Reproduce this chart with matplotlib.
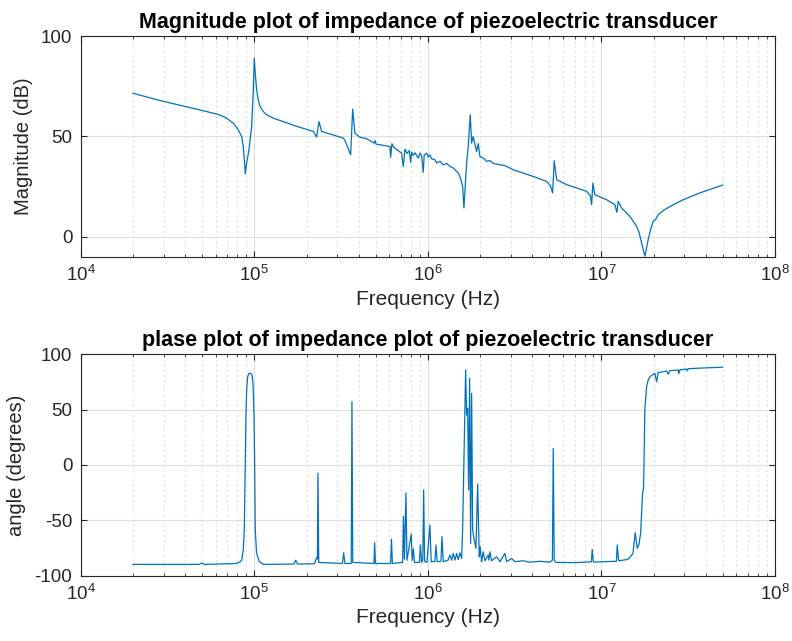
import matplotlib
matplotlib.use("Agg")
import matplotlib.pyplot as plt
from matplotlib.ticker import LogLocator, NullFormatter, FixedLocator

plt.rcParams['font.family'] = ['Liberation Sans', 'DejaVu Sans']
plt.rcParams['axes.unicode_minus'] = False

# ---------------- data ----------------
mag_freq = [2.00e4, 2.86e4, 4.87e4, 6.30e4, 6.93e4, 7.57e4, 8.09e4, 8.46e4, 8.64e4, 8.80e4,
            8.87e4, 9.04e4, 9.32e4, 9.66e4, 9.87e4, 1.00e5, 1.013e5, 1.032e5, 1.054e5,
            1.079e5, 1.127e5, 1.179e5, 1.287e5, 1.469e5, 1.716e5, 2.19e5, 2.288e5,
            2.36e5, 2.444e5, 3.256e5, 3.33e5, 3.592e5, 3.689e5, 3.80e5, 4.06e5, 4.441e5,
            4.893e5, 4.96e5, 5.02e5, 6.05e5, 6.105e5, 6.21e5, 6.38e5, 7.06e5, 7.22e5,
            7.38e5, 7.60e5, 7.82e5, 7.96e5, 8.07e5, 8.24e5, 8.43e5, 8.81e5, 9.01e5,
            9.21e5, 9.41e5, 9.53e5, 9.84e5, 1.005e6, 1.028e6, 1.052e6, 1.099e6, 1.124e6,
            1.174e6, 1.227e6, 1.282e6, 1.341e6, 1.401e6, 1.497e6, 1.531e6, 1.587e6,
            1.614e6, 1.673e6, 1.709e6, 1.755e6, 1.788e6, 1.826e6, 1.910e6, 1.951e6,
            1.995e6, 2.084e6, 2.181e6, 2.279e6, 2.381e6, 2.602e6, 2.780e6, 3.104e6,
            4.047e6, 4.835e6, 5.084e6, 5.235e6, 5.347e6, 5.520e6, 6.302e6, 8.216e6,
            8.64e6, 8.78e6, 8.93e6, 9.17e6, 1.072e7, 1.196e7, 1.228e7, 1.250e7, 1.307e7,
            1.460e7, 1.525e7, 1.595e7, 1.651e7, 1.704e7, 1.741e7, 1.780e7, 1.821e7,
            1.860e7, 1.920e7, 1.988e7, 2.060e7, 2.124e7, 2.270e7, 2.375e7, 2.592e7,
            2.960e7, 3.693e7, 4.992e7]
mag_db = [71.5, 67.9, 63.2, 60.8, 59.1, 56.6, 53.3, 50.0, 45.0, 36.8,
          31.4, 36.8, 43.4, 55.0, 73.2, 88.9, 81.5, 73.2, 68.2,
          64.9, 62.4, 60.8, 59.1, 57.4, 55.3, 52.5, 49.7,
          57.4, 52.5, 49.2, 48.0, 40.9, 63.6, 51.7, 49.6, 48.9,
          46.7, 48.0, 46.2, 45.0, 39.7, 46.4, 44.5, 41.7, 35.1,
          43.7, 41.5, 43.0, 37.1, 42.2, 40.5, 41.9, 39.2, 41.7,
          40.4, 32.1, 40.8, 41.7, 39.7, 40.8, 38.9, 38.4, 36.8,
          37.6, 35.9, 36.6, 35.1, 34.3, 31.8, 30.1, 25.1,
          14.4, 36.8, 45.0, 60.8, 46.7, 50.0, 42.5, 46.4,
          40.0, 39.3, 37.6, 38.0, 36.6, 35.9, 35.5, 33.4,
          30.1, 27.6, 25.5, 21.9, 37.9, 28.5, 26.0, 22.7,
          20.5, 16.0, 26.8, 21.0, 18.5, 16.0, 12.2, 17.7, 14.4,
          10.2, 7.8, 5.3, 2.0, -3.0, -6.3, -9.6, -5.5,
          -1.3, 3.6, 7.8, 8.9, 11.1, 13.1, 14.1, 16.0,
          18.5, 21.9, 25.8]

ph_freq = [2.00e4, 4.80e4, 4.98e4, 5.15e4, 7.85e4, 8.27e4, 8.46e4, 8.64e4, 8.76e4, 8.87e4,
           8.96e4, 9.04e4, 9.16e4, 9.32e4, 9.535e4, 9.70e4, 9.83e4, 9.96e4, 1.005e5,
           1.013e5, 1.032e5, 1.069e5, 1.127e5, 1.693e5, 1.732e5,
           1.774e5, 2.222e5, 2.288e5, 2.312e5, 2.327e5, 2.352e5, 3.222e5, 3.273e5, 3.33e5,
           3.62e5, 3.654e5, 3.693e5, 4.893e5, 4.938e5, 4.99e5, 6.105e5, 6.17e5, 6.25e5,
           7.16e5, 7.235e5, 7.33e5, 7.48e5, 7.58e5, 8.026e5, 8.13e5, 8.26e5, 8.37e5,
           8.94e5, 9.06e5, 9.21e5, 9.35e5, 9.46e5, 9.58e5, 9.88e5, 1.028e6, 1.046e6,
           1.099e6, 1.114e6, 1.133e6, 1.19e6, 1.206e6, 1.227e6, 1.306e6, 1.341e6, 1.371e6,
           1.401e6, 1.433e6, 1.465e6, 1.497e6, 1.531e6, 1.566e6, 1.587e6, 1.651e6,
           1.673e6, 1.696e6, 1.718e6, 1.741e6, 1.764e6, 1.788e6, 1.812e6, 1.850e6,
           1.893e6, 1.936e6, 1.978e6, 2.004e6, 2.041e6, 2.085e6, 2.133e6, 2.228e6,
           2.249e6, 2.279e6, 2.331e6, 2.49e6, 2.602e6, 2.78e6, 2.844e6, 3.04e6, 3.176e6,
           3.53e6, 3.873e6, 4.423e6, 5.05e6, 5.22e6, 5.278e6, 5.347e6, 5.47e6, 7.04e6,
           8.76e6, 8.85e6, 8.99e6, 1.22e7, 1.233e7, 1.258e7, 1.397e7, 1.44e7, 1.519e7,
           1.566e7, 1.608e7, 1.645e7, 1.682e7, 1.727e7, 1.75e7, 1.78e7, 1.821e7, 1.860e7,
           1.903e7, 2.033e7, 2.080e7, 2.124e7, 2.375e7, 2.426e7, 2.48e7, 2.77e7, 2.79e7,
           2.833e7, 3.096e7, 3.121e7, 3.171e7, 3.693e7, 4.99e7]
ph_deg = [-89.8, -89.8, -88.5, -89.8, -89.0, -87.5, -86.0, -76.9, -58.8, 1.5,
          46.7, 67.7, 79.8, 82.8, 82.8, 81.3, 73.8, 46.7, 1.5,
          -58.8, -79.8, -87.4, -89.8, -89.5, -86.0,
          -89.5, -89.2, -83.8, -85.0, -7.5, -88.0, -89.0, -79.3, -89.0,
          -89.0, 57.2, -88.0, -89.0, -70.3, -89.0, -89.0, -67.0, -89.0,
          -88.0, -46.5, -85.0, -25.3, -86.0, -62.4, -86.0, -75.9, -88.0,
          -88.0, -72.3, -88.0, -86.0, -22.6, -87.0, -88.0, -54.3, -87.4,
          -87.0, -72.3, -87.4, -87.0, -64.8, -87.4, -86.0, -81.4, -86.0,
          -79.9, -86.0, -80.0, -85.5, -79.3, -84.5, -57.3, 85.8,
          45.1, 51.2, -22.6, 78.3, -70.8, 64.8, -58.8, -67.8,
          -75.3, -17.2, -82.9, -74.0, -87.4, -78.4, -86.5, -81.4,
          -86.0, -78.4, -86.5, -82.9, -87.4, -79.9, -87.4, -84.4, -87.4,
          -86.5, -87.8, -87.0, -87.8, -86.0, 15.0, -86.0, -88.0, -88.2,
          -87.5, -76.2, -87.7, -87.0, -72.3, -86.5, -85.5, -84.5, -80.0,
          -61.2, -75.3, -72.0, -61.8, -25.6, -20.0, 49.7, 70.7, 76.8,
          79.8, 82.8, 75.2, 83.4, 84.9, 82.0, 85.2, 85.8, 82.5,
          86.0, 86.7, 85.0, 87.0, 87.5, 88.3]

mag_ticks = [0, 50, 100]
ph_ticks = [-100, -50, 0, 50, 100]

# ---------------- style ----------------
LINE = '#0072BD'
AX = '#262626'

fig = plt.figure(figsize=(7.92, 6.41), dpi=100)
ax1 = fig.add_axes([0.1019, 0.5991, 0.8766, 0.3447])
ax2 = fig.add_axes([0.1019, 0.1019, 0.8766, 0.3454])


def style(ax, yticks, ylim, title, ylabel):
    ax.set_xscale('log')
    ax.set_xlim(1e4, 1e8)
    ax.set_ylim(*ylim)
    ax.set_yticks(yticks)
    ax.xaxis.set_major_locator(FixedLocator([1e4, 1e5, 1e6, 1e7, 1e8]))
    ax.xaxis.set_minor_locator(LogLocator(base=10, subs=range(2, 10), numticks=20))
    ax.xaxis.set_minor_formatter(NullFormatter())
    ax.grid(True, which='major', color='#dedede', linewidth=0.8, linestyle='-')
    ax.grid(True, which='minor', axis='x', color='#c4c4c4', linewidth=0.8,
            linestyle=(0, (1, 3.5)))
    ax.set_axisbelow(True)
    for s in ax.spines.values():
        s.set_color(AX)
        s.set_linewidth(0.8)
    ax.tick_params(which='both', direction='in', top=True, right=True,
                   colors=AX, labelsize=13.5, pad=6)
    ax.tick_params(which='major', length=4.5, width=0.8)
    ax.tick_params(which='minor', length=2.5, width=0.6)
    ax.set_title(title, fontsize=15.5, fontweight='bold', color='black', pad=6)
    ax.set_xlabel('Frequency (Hz)', fontsize=15, color=AX, labelpad=3)
    ax.set_ylabel(ylabel, fontsize=14.5, color=AX, labelpad=6)


ax1.plot(mag_freq, mag_db, color=LINE, linewidth=0.9)
style(ax1, mag_ticks, (-10, 100),
      'Magnitude plot of impedance of piezoelectric transducer', 'Magnitude (dB)')

ax2.plot(ph_freq, ph_deg, color=LINE, linewidth=0.9)
style(ax2, ph_ticks, (-100, 100),
      'plase plot of impedance plot of piezoelectric transducer', 'angle (degrees)')

fig.savefig('out.png', dpi=100)
